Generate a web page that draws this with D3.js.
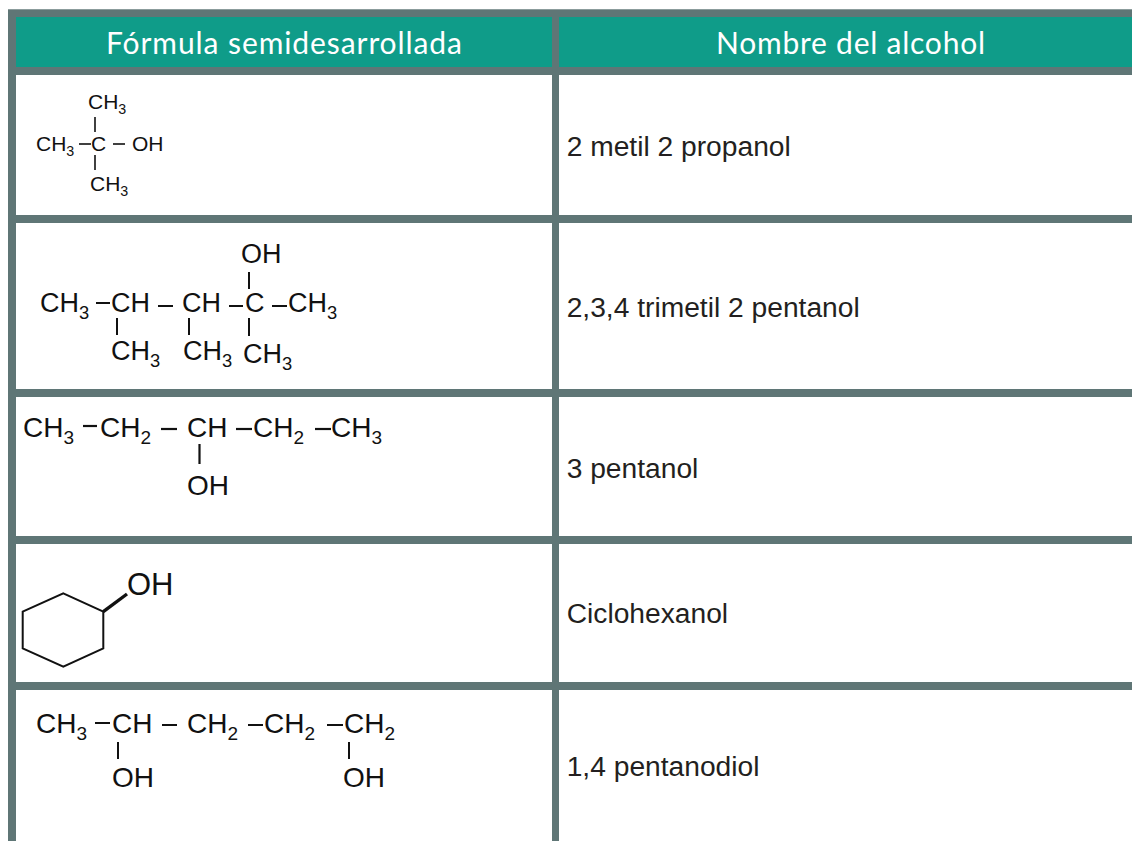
<!DOCTYPE html>
<html lang="es">
<head>
<meta charset="UTF-8">
<title>Alcoholes</title>
<script src="https://cdnjs.cloudflare.com/ajax/libs/d3/7.8.5/d3.min.js"></script>
<style>
  html, body { margin: 0; padding: 0; background: #fff; overflow: hidden; }
  svg { display: block; }
  text { font-family: "Liberation Sans", Arial, sans-serif; }
  .head { font-family: "Lato", sans-serif; fill: #fff; }
  .name { fill: #231f20; }
  .chem { fill: #111; }
  .bond { stroke: #111; fill: none; }
</style>
</head>
<body>
<script>
// table contents
var headers = ["Fórmula semidesarrollada", "Nombre del alcohol"];
var names = ["2 metil 2 propanol", "2,3,4 trimetil 2 pentanol", "3 pentanol", "Ciclohexanol", "1,4 pentanodiol"];

// labels of each formula, one list per row
var labels1 = ["CH3", "CH3", "C", "OH", "CH3"];
var labels2 = ["OH", "CH3", "CH", "CH", "C", "CH3", "CH3", "CH3", "CH3"];
var labels3 = ["CH3", "CH2", "CH", "CH2", "CH3", "OH"];
var labels4 = ["OH"];
var labels5 = ["CH3", "CH", "CH2", "CH2", "CH2", "OH", "OH"];

// layout of the table
var W = 1132, H = 841;
var bar = "#5f7676", teal = "#0f9c89";
var rowBars = [[67, 75], [215, 223], [389, 397], [536, 544], [682, 690]];
var colBars = [[8, 16], [552, 559]];
var nameBase = [156, 317, 478, 623, 776];

// where the labels and bonds go, [x, baseline]
var pos1 = [[88, 108.5], [36, 150.5], [91, 150.5], [132, 150.5], [90, 191]];
var pos2 = [[241, 263], [40, 312], [111, 312], [182, 312], [245, 312], [288, 312], [111, 360], [183, 360], [243, 363]];
var pos3 = [[23, 437], [100, 437], [187, 437], [253, 437], [331, 437], [187, 495]];
var pos4 = [[127, 595]];
var pos5 = [[36, 733], [112, 733], [187, 733], [264, 733], [344, 733], [112, 787], [343, 787]];

var bonds1 = [[79, 144, 91, 144], [113, 144, 125, 144], [95, 117, 95, 132], [95, 155, 95, 170]];
var bonds2 = [[96, 303, 110, 303], [158, 306, 173, 306], [229, 306, 243, 306], [272, 306, 287, 306],
              [249, 272, 249, 289], [117, 318, 117, 335], [189, 318, 189, 335], [249, 318, 249, 336]];
var bonds3 = [[83, 426, 97, 426], [161, 429, 177, 429], [236, 429, 252, 429], [315, 429, 331, 429], [199.5, 444, 199.5, 464]];
var bonds5 = [[95, 723, 110, 723], [162, 725, 177, 725], [248, 725, 263, 725], [327, 725, 343, 725],
              [118, 742, 118, 759], [349, 742, 349, 759]];
var ring = [[63.3, 593.3], [103.3, 611.7], [103.3, 648.3], [63.3, 666.7], [22.7, 648.3], [22.7, 611.7]];

var svg = d3.select("body").append("svg").attr("width", W).attr("height", H);

// header band and grid
svg.append("rect").attr("x", 16).attr("y", 17).attr("width", W - 16).attr("height", 50).attr("fill", teal);
svg.append("rect").attr("x", 8).attr("y", 9).attr("width", W - 8).attr("height", 8).attr("fill", bar);
svg.selectAll(".hbar").data(rowBars).enter().append("rect")
    .attr("x", 8).attr("width", W - 8)
    .attr("y", function(d) { return d[0]; })
    .attr("height", function(d) { return d[1] - d[0]; })
    .attr("fill", bar);
svg.selectAll(".vbar").data(colBars).enter().append("rect")
    .attr("y", 9).attr("height", H - 9)
    .attr("x", function(d) { return d[0]; })
    .attr("width", function(d) { return d[1] - d[0]; })
    .attr("fill", bar);
// lighter top edge of the frame
svg.append("rect").attr("x", 8).attr("y", 9).attr("width", W - 8).attr("height", 1).attr("fill", "#8b9c9c");

// header text
svg.selectAll(".head").data(headers).enter().append("text")
    .attr("class", "head")
    .attr("x", function(d, i) { return i ? 716 : 106; })
    .attr("y", 53.5)
    .attr("font-size", 30)
    .attr("textLength", function(d, i) { return i ? 269 : 356; })
    .text(function(d) { return d; });

// alcohol names
svg.selectAll(".name").data(names).enter().append("text")
    .attr("class", "name")
    .attr("x", 566.7)
    .attr("y", function(d, i) { return nameBase[i]; })
    .attr("font-size", 28.2)
    .text(function(d) { return d; });

// label with the trailing digit as subscript
function drawLabels(labels, pos, size) {
  var t = svg.append("g").selectAll("text").data(labels).enter().append("text")
      .attr("class", "chem")
      .attr("x", function(d, i) { return pos[i][0]; })
      .attr("y", function(d, i) { return pos[i][1]; })
      .attr("font-size", size);
  t.append("tspan").text(function(d) { return d.replace(/\d/, ""); });
  t.append("tspan")
      .attr("dy", size * 0.26)
      .attr("font-size", size * 0.68)
      .text(function(d) { return d.replace(/\D/g, ""); });
}

function drawBonds(bonds, width) {
  svg.append("g").selectAll("line").data(bonds).enter().append("line")
      .attr("class", "bond")
      .attr("stroke-width", width)
      .attr("x1", function(d) { return d[0]; })
      .attr("y1", function(d) { return d[1]; })
      .attr("x2", function(d) { return d[2]; })
      .attr("y2", function(d) { return d[3]; });
}

drawLabels(labels1, pos1, 21); drawBonds(bonds1, 1.6);
drawLabels(labels2, pos2, 27); drawBonds(bonds2, 2);
drawLabels(labels3, pos3, 28); drawBonds(bonds3, 2.2);
drawLabels(labels4, pos4, 31);
drawLabels(labels5, pos5, 28); drawBonds(bonds5, 2);

// cyclohexane ring and its bond to OH
svg.append("path").attr("class", "bond").attr("stroke-width", 2)
    .attr("d", d3.line()(ring) + "Z");
drawBonds([[103.3, 611.7, 127, 594]], 3.4);
</script>
</body>
</html>
